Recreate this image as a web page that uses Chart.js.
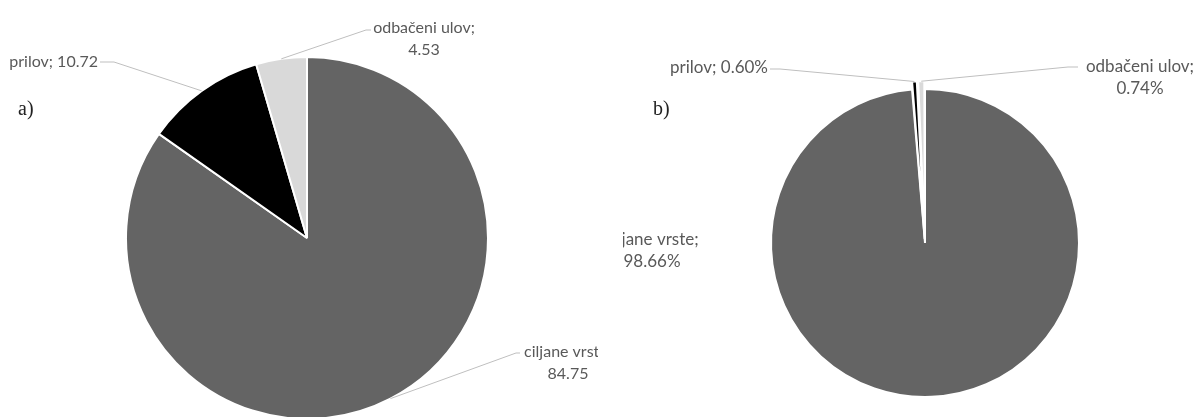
<!DOCTYPE html>
<html>
<head>
<meta charset="utf-8">
<script src="https://cdn.jsdelivr.net/npm/chart.js@4/dist/chart.umd.min.js"></script>
<style>
  html, body { margin: 0; padding: 0; background: #fff; }
  body { width: 1200px; height: 417px; position: relative; overflow: hidden; }
  canvas { position: absolute; top: 0; }
  #pieA { left: 0; }
  #pieB { left: 623px; }
</style>
</head>
<body>
<canvas id="pieA" width="598" height="417"></canvas>
<canvas id="pieB" width="577" height="417"></canvas>
<script>
// Catch composition: a) by mass, b) by number of individuals
const categories = ['ciljane vrste', 'prilov', 'odbačeni ulov'];
const shareA = [84.75, 10.72, 4.53];
const shareB = [98.66, 0.60, 0.74];
const panelTitles = ['a)', 'b)'];

const sliceColors = ['#646464', '#000000', '#d9d9d9'];
const labelColor = '#595959';
const leaderColor = '#bfbfbf';

// Draws the data labels with leader lines, plus the panel letter
const sliceLabels = {
  id: 'sliceLabels',
  afterDatasetsDraw(chart, args, opts) {
    const ctx = chart.ctx;
    const meta = chart.getDatasetMeta(0);
    const ds = chart.data.datasets[0];
    ctx.save();
    opts.items.forEach((it, i) => {
      const arc = meta.data[i];
      const p = arc.getProps(['x', 'y', 'startAngle', 'endAngle', 'outerRadius'], true);
      const mid = (p.startAngle + p.endAngle) / 2;
      const off = (arc.options.offset || 0) / 4;
      const fix = 1 - Math.sin(Math.min(Math.PI, p.endAngle - p.startAngle));
      const r = p.outerRadius + off * (1 + fix);
      const ax = p.x + Math.cos(mid) * r;
      const ay = p.y + Math.sin(mid) * r;
      const value = ds.data[i].toFixed(2) + opts.suffix;
      const name = chart.data.labels[i];
      const lines = it.wrap ? [name + ';', value] : [name + '; ' + value];
      if (it.elbow) {
        ctx.strokeStyle = leaderColor;
        ctx.lineWidth = 1;
        ctx.beginPath();
        ctx.moveTo(ax, ay);
        ctx.lineTo(it.elbow[0], it.elbow[1]);
        ctx.lineTo(it.end[0], it.end[1]);
        ctx.stroke();
      }
      ctx.fillStyle = labelColor;
      ctx.font = opts.fontSize + 'px Lato, "Open Sans", sans-serif';
      ctx.textBaseline = 'middle';
      ctx.textAlign = it.align;
      lines.forEach((ln, k) => ctx.fillText(ln, it.x, it.y + k * 22));
    });
    ctx.fillStyle = '#222';
    ctx.font = '20px "Liberation Serif", "DejaVu Serif", serif';
    ctx.textAlign = 'left';
    ctx.textBaseline = 'middle';
    ctx.fillText(opts.title, opts.titlePos[0], opts.titlePos[1]);
    ctx.restore();
  }
};

function makePie(id, values, radius, padding, offsets, labelOpts) {
  return new Chart(document.getElementById(id), {
    type: 'pie',
    data: {
      labels: categories,
      datasets: [{
        data: values,
        backgroundColor: sliceColors,
        borderColor: '#ffffff',
        borderWidth: 2,
        offset: offsets,
        clip: false
      }]
    },
    options: {
      responsive: false,
      animation: false,
      events: [],
      radius: radius,
      layout: { padding: padding },
      plugins: {
        legend: { display: false },
        tooltip: { enabled: false },
        sliceLabels: labelOpts
      }
    },
    plugins: [sliceLabels]
  });
}

makePie('pieA', shareA, 181, { left: 16, right: 0, top: 59, bottom: 0 }, [0, 0, 0], {
  suffix: '',
  fontSize: 16,
  title: panelTitles[0],
  titlePos: [18, 110],
  items: [
    { x: 568, y: 352, align: 'center', wrap: true, elbow: [516, 353], end: [520, 353] },
    { x: 98, y: 62, align: 'right', wrap: false, elbow: [114, 62], end: [100, 62] },
    { x: 424, y: 28, align: 'center', wrap: true, elbow: [366, 30], end: [371, 30] }
  ]
});

makePie('pieB', shareB, 154, { left: 27, right: 0, top: 69, bottom: 0 }, [0, 16, 16], {
  suffix: '%',
  fontSize: 17,
  title: panelTitles[1],
  titlePos: [30, 110],
  items: [
    { x: 29, y: 240, align: 'center', wrap: true },
    { x: 145, y: 68, align: 'right', wrap: false, elbow: [157, 69], end: [147, 69] },
    { x: 517, y: 67, align: 'center', wrap: true, elbow: [445, 67], end: [455, 67] }
  ]
});
</script>
</body>
</html>
